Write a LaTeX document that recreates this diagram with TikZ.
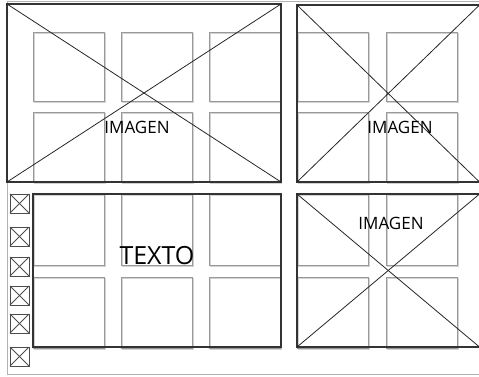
\documentclass[tikz,border=0pt]{standalone}
\usepackage{fontspec}
\setmainfont{Open Sans}
\begin{document}
\begin{tikzpicture}[x=1pt,y=-1pt,
  gridcell/.style={draw=gray!80, line width=0.8pt},
  gridshadow/.style={draw=gray!35, line width=0.8pt},
  frameline/.style={draw=gray!60, line width=1pt},
  imgbox/.style={draw=black!80, line width=1.4pt},
  diag/.style={draw=black!85, line width=0.8pt},
  iconbox/.style={draw=black!70, line width=0.8pt},
  lbl/.style={inner sep=0pt, font=\fontsize{17}{17}\selectfont},
  biglbl/.style={inner sep=0pt, font=\fontsize{25}{25}\selectfont}]
\useasboundingbox (0,0) rectangle (479,377);
% outer frame
\draw[frameline] (7,2) -- (479,2);
\draw[frameline] (7,2) -- (7,374) -- (479,374);
% background grid
\foreach \cx in {33,121,209,297,386}{
  \foreach \cy/\ch in {32/69,112/70,194/71,277/71}{
    \draw[gridshadow] (\cx+1.2,\cy+1.2) rectangle (\cx+71+1.2,\cy+\ch+1.2);
    \draw[gridcell] (\cx,\cy) rectangle (\cx+71,\cy+\ch);
  }
}
% image boxes
\coordinate (tlA) at (7,4);   \coordinate (tlB) at (281,182);
\coordinate (trA) at (297,5); \coordinate (trB) at (479.5,182);
\coordinate (brA) at (297,194); \coordinate (brB) at (479.5,347);
\draw[imgbox] (tlA) rectangle (tlB);
\draw[diag] (tlA) -- (tlB);
\draw[diag] (tlA |- tlB) -- (tlB |- tlA);
\draw[imgbox] (trA) rectangle (trB);
\draw[diag] (trA) -- (trB);
\draw[diag] (trA |- trB) -- (trB |- trA);
\draw[imgbox] (brA) rectangle (brB);
\draw[diag] (brA) -- (brB);
\draw[diag] (brA |- brB) -- (brB |- brA);
% text box
\draw[imgbox] (33,194) rectangle (281,347);
% small icons
\foreach \iy in {194,227,257,286,314,347}{
  \draw[iconbox] (10,\iy) rectangle (29,\iy+19);
  \draw[iconbox] (10,\iy) -- (29,\iy+19);
  \draw[iconbox] (10,\iy+19) -- (29,\iy);
}
% labels
\node[lbl] (t1) at (137,127) {IMAGEN};
\node[lbl] (t2) at (400,127) {IMAGEN};
\node[lbl] (t3) at (391,223) {IMAGEN};
\node[biglbl] (t4) at (157,256) {TEXTO};
\end{tikzpicture}
\end{document}
